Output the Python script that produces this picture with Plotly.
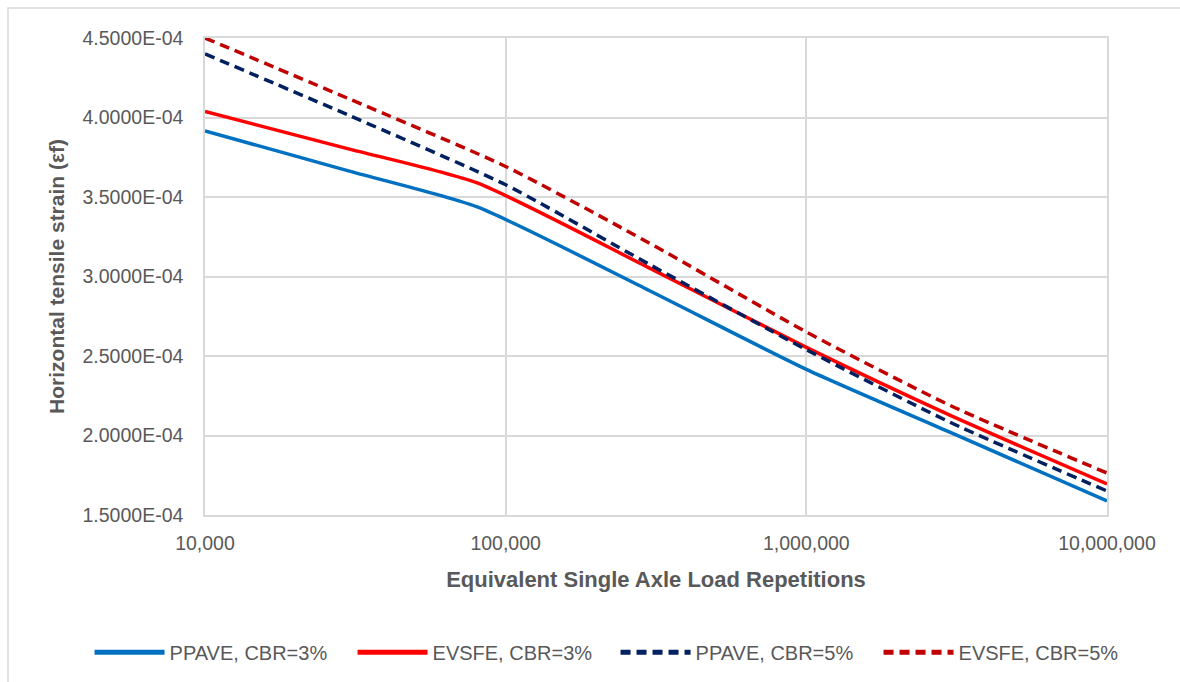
import plotly.graph_objects as go

# ESAL repetitions (log axis)
esal_3 = [10000, 30000, 80000, 300000, 1000000, 3000000, 10000000]
esal_5 = [10000, 30000, 100000, 300000, 1000000, 3000000, 10000000]

# Horizontal tensile strain at the bottom of the asphalt layer
ppave_cbr3 = [3.916e-4, 3.664e-4, 3.439e-4, 2.912e-4, 2.416e-4, 2.021e-4, 1.588e-4]
evsfe_cbr3 = [4.038e-4, 3.803e-4, 3.590e-4, 3.054e-4, 2.554e-4, 2.128e-4, 1.695e-4]
ppave_cbr5 = [4.400e-4, 4.015e-4, 3.577e-4, 3.077e-4, 2.540e-4, 2.084e-4, 1.651e-4]
evsfe_cbr5 = [4.500e-4, 4.119e-4, 3.692e-4, 3.211e-4, 2.651e-4, 2.190e-4, 1.764e-4]

series_names = ["PPAVE, CBR=3%", "EVSFE, CBR=3%", "PPAVE, CBR=5%", "EVSFE, CBR=5%"]
y_ticks = [1.5e-4, 2.0e-4, 2.5e-4, 3.0e-4, 3.5e-4, 4.0e-4, 4.5e-4]
y_tick_text = ["1.5000E-04", "2.0000E-04", "2.5000E-04", "3.0000E-04",
               "3.5000E-04", "4.0000E-04", "4.5000E-04"]
x_ticks = [10000, 100000, 1000000, 10000000]
x_tick_text = ["10,000", "100,000", "1,000,000", "10,000,000"]

grey = "#595959"
grid = "#D9D9D9"
font_family = "Liberation Sans, Arial, sans-serif"

fig = go.Figure()

styles = [
    (esal_3, ppave_cbr3, "#0070C0", "solid"),
    (esal_3, evsfe_cbr3, "#FF0000", "solid"),
    (esal_5, ppave_cbr5, "#002060", "10px,6px"),
    (esal_5, evsfe_cbr5, "#C00000", "10px,6px"),
]
for name, (xs, ys, color, dash) in zip(series_names, styles):
    fig.add_trace(go.Scatter(
        x=xs, y=ys, name=name, mode="lines",
        line=dict(color=color, width=3.5, dash=dash, shape="spline", smoothing=0.6),
    ))

# Outer chart frame
fig.add_shape(type="rect", xref="paper", yref="paper",
              x0=-0.2184, x1=1.2, y0=-0.4, y1=1.063,
              line=dict(color=grid, width=1.5), layer="below")

fig.update_layout(
    width=1180, height=682,
    margin=dict(l=205, r=73, t=38, b=166),
    paper_bgcolor="white", plot_bgcolor="white",
    font=dict(family=font_family, color=grey, size=20),
    showlegend=True,
    legend=dict(orientation="h", x=-0.128, xanchor="left", y=-0.285, yanchor="middle",
                font=dict(size=20, color=grey), itemwidth=70, entrywidth=178,
                traceorder="normal", tracegroupgap=0, itemsizing="constant"),
)

fig.update_xaxes(
    type="log", range=[4, 7],
    tickvals=x_ticks, ticktext=x_tick_text,
    showgrid=True, gridcolor=grid, gridwidth=1.5,
    showline=True, linecolor=grid, linewidth=1.5, mirror=True,
    ticks="", ticklen=0, zeroline=False, ticklabelstandoff=10,
    tickfont=dict(size=19.5, color=grey),
    title=dict(text="<b>Equivalent Single Axle Load Repetitions</b>",
               font=dict(size=22, color=grey), standoff=18),
)
fig.update_yaxes(
    range=[1.5e-4, 4.5e-4],
    tickvals=y_ticks, ticktext=y_tick_text,
    showgrid=True, gridcolor=grid, gridwidth=1.5,
    showline=True, linecolor=grid, linewidth=1.5, mirror=True,
    ticks="", zeroline=False, ticklabelstandoff=16,
    tickfont=dict(size=19.5, color=grey),
    title=dict(text="<b>Horizontal tensile strain (εf)</b>",
               font=dict(size=21, color=grey), standoff=12),
)

fig.write_html("out.html")
